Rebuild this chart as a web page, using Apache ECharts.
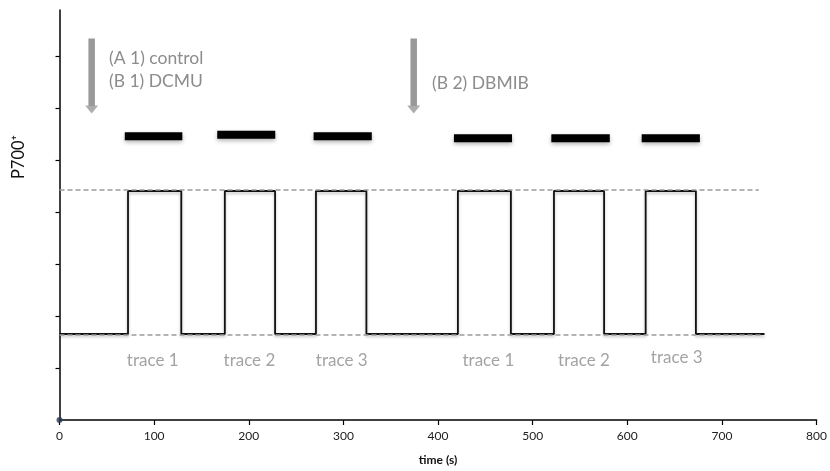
<!DOCTYPE html>
<html><head><meta charset="utf-8">
<script src="https://cdn.jsdelivr.net/npm/echarts@6/dist/echarts.min.js"></script>
<style>html,body{margin:0;padding:0;background:#fff}#c{width:830px;height:471px}</style>
</head><body><div id="c"></div>
<script>
// ---- data ----
const xTicks = [0, 100, 200, 300, 400, 500, 600, 700, 800];
const traceTimes = [0, 72.4, 128.7, 174.7, 227.8, 271, 324.3, 421, 477, 522.5, 575.5, 619.4, 672.5, 745];
const traceLevels = [1.654, 4.404, 1.654, 4.404, 1.654, 4.404, 1.654, 4.404, 1.654, 4.404, 1.654, 4.404, 1.654, 1.654];
const highRef = [[0, 4.423], [739, 4.423]];
const lowRef = [[0, 1.635], [741, 1.635]];
const lightStart = [69, 166.7, 268.5, 416.8, 519.7, 615.2];
const lightEnd = [129.8, 228, 330, 478.2, 581.5, 676.7];
const lightLevel = [5.456, 5.487, 5.456, 5.417, 5.417, 5.417];
const arrowX = [34, 374.3];
const arrowTop = 7.337;
const arrowShaftEnd = 6.04;
const arrowHead = 5.97;
const traceLabelX = [98.5, 200.7, 298.2, 453.2, 554.2, 652.2];
const traceLabelY = [1.15, 1.15, 1.15, 1.15, 1.15, 1.2];
const traceLabels = ['trace 1', 'trace 2', 'trace 3', 'trace 1', 'trace 2', 'trace 3'];
const yTickValues = [1, 2, 3, 4, 5, 6, 7];

const FONT = 'Lato';
const GREY_TXT = '#8c8c8c';

const traceData = traceTimes.map((t, i) => [t, traceLevels[i]]);
const series = [];

series.push({
  type: 'line', step: 'end', data: traceData, symbol: 'none', z: 3,
  lineStyle: { color: '#111', width: 1.8, shadowColor: 'rgba(0,0,0,0.25)', shadowBlur: 3, shadowOffsetY: 2 }
});
[highRef, lowRef].forEach(d => series.push({
  type: 'line', data: d, symbol: 'none', z: 4,
  lineStyle: { color: '#9a9a9a', width: 1.5, type: [5, 3] }
}));
lightStart.forEach((s, i) => series.push({
  type: 'line', data: [[s, lightLevel[i]], [lightEnd[i], lightLevel[i]]], symbol: 'none', z: 3,
  lineStyle: { color: '#000', width: 8, cap: 'butt', shadowColor: 'rgba(0,0,0,0.3)', shadowBlur: 4, shadowOffsetY: 2 }
}));
arrowX.forEach(x => {
  series.push({
    type: 'line', data: [[x, arrowTop], [x, arrowShaftEnd]], symbol: 'none', z: 3,
    lineStyle: { color: '#999', width: 6.5, cap: 'butt' }
  });
  series.push({
    type: 'scatter', data: [[x, arrowHead]], symbol: 'triangle', symbolRotate: 180,
    symbolSize: [13, 8], itemStyle: { color: '#999' }, z: 3, silent: true
  });
});
series.push({
  type: 'scatter', data: traceLabelX.map((x, i) => ({ value: [x, traceLabelY[i]], name: traceLabels[i] })),
  symbolSize: 0, z: 5, silent: true,
  label: { show: true, position: 'inside', formatter: p => p.name, color: GREY_TXT, fontFamily: FONT, fontSize: 17 }
});
series.push({
  type: 'scatter', data: [[0, 0]], symbolSize: 6, itemStyle: { color: '#2b3a55' }, z: 6, silent: true
});

const chart = echarts.init(document.getElementById('c'));
chart.setOption({
  animation: false,
  grid: { left: 59.5, right: 11, top: 10, bottom: 51 },
  xAxis: {
    type: 'value', min: 0, max: 800, interval: 100,
    name: 'time (s)', nameLocation: 'middle', nameGap: 34,
    nameTextStyle: { fontFamily: FONT, fontSize: 12, fontWeight: 'bold', color: '#111' },
    axisLine: { lineStyle: { color: '#000', width: 1.5 } },
    axisTick: { show: true, length: 5, lineStyle: { color: '#000', width: 1.2 } },
    axisLabel: { color: '#222', fontFamily: FONT, fontSize: 12, margin: 10,
      customValues: xTicks },
    splitLine: { show: false }
  },
  yAxis: {
    type: 'value', min: 0, max: 7.885,
    axisLine: { show: true, lineStyle: { color: '#000', width: 1.5 } },
    axisTick: { show: true, length: 4, customValues: yTickValues, lineStyle: { color: '#000', width: 1.2 } },
    axisLabel: { show: false },
    splitLine: { show: false }
  },
  graphic: [
    { type: 'text', left: 109, top: 49, style: { text: '(A 1) control', fill: GREY_TXT, font: '17.5px Lato' } },
    { type: 'text', left: 109, top: 72, style: { text: '(B 1) DCMU', fill: GREY_TXT, font: '17.5px Lato' } },
    { type: 'text', left: 432, top: 74, style: { text: '(B 2) DBMIB', fill: GREY_TXT, font: '17.5px Lato' } },
    { type: 'text', x: 19, y: 157, rotation: Math.PI / 2,
      style: { text: 'P700⁺', fill: '#111', font: '16.5px Lato', align: 'center', verticalAlign: 'middle' } }
  ],
  series
});
</script></body></html>
